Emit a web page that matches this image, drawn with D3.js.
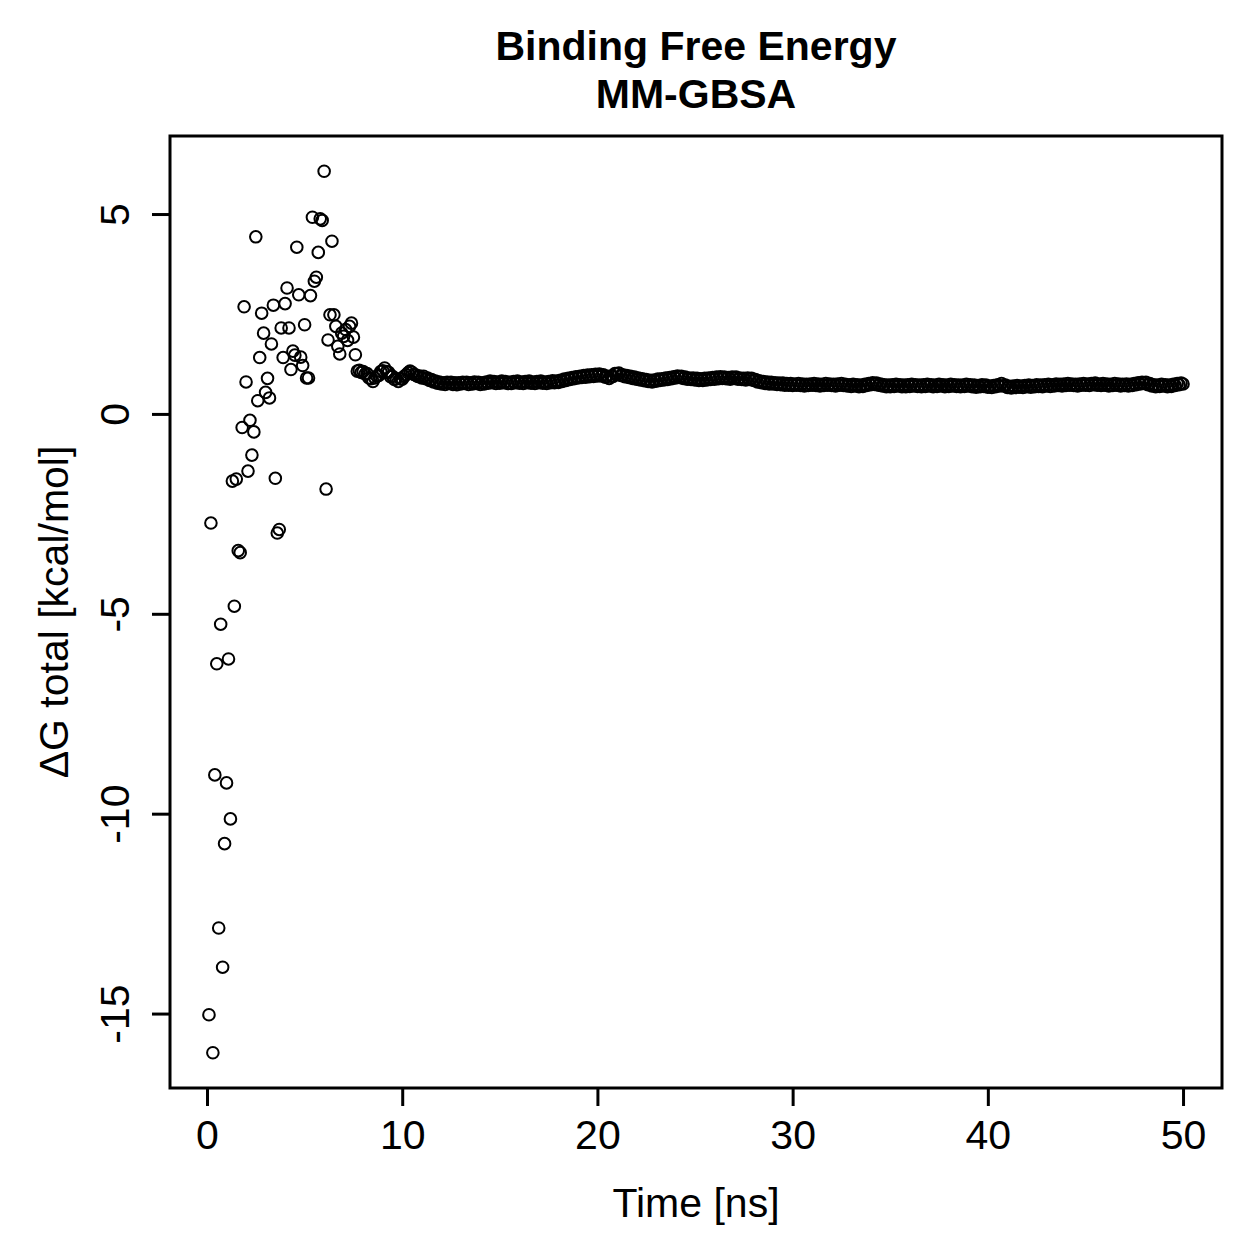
<!DOCTYPE html>
<html>
<head>
<meta charset="utf-8">
<script src="https://cdn.jsdelivr.net/npm/d3@7"></script>
<style>
  body { margin: 0; background: #fff; }
  svg text { font-family: "Liberation Sans", Arial, Helvetica, sans-serif; fill: #000; }
</style>
</head>
<body>
<div id="chart"></div>
<script>
// snapshots every 0.1 ns, 0.1 .. 50.0
const timeStep = 0.1;

// first 7.6 ns, scattered
const earlyDG = [
  -15.03, -2.73, -15.98, -9.03, -6.25, -12.86, -5.26, -13.84, -10.75, -9.23,
  -6.13, -10.13, -1.68, -4.81, -1.63, -3.42, -3.47, -0.34, 2.68, 0.80,
  -1.43, -0.16, -1.03, -0.45, 4.43, 0.33, 1.41, 2.52, 2.02, 0.54,
  0.89, 0.40, 1.75, 2.72, -1.61, -2.98, -2.89, 2.15, 1.41, 2.76,
  3.15, 2.15, 1.11, 1.57, 1.47, 4.17, 2.98, 1.42, 1.21, 2.23,
  0.90, 0.90, 2.96, 4.92, 3.32, 3.42, 4.04, 4.88, 4.84, 6.07,
  -1.88, 1.85, 2.48, 4.32, 2.48, 2.19, 1.69, 1.50, 2.02, 1.94,
  2.11, 1.84, 2.19, 2.27, 1.92, 1.48
];

// 7.7 ns .. 50.0 ns, converged band
const bandDG = [
  1.07, 1.09, 1.04,
  1.06, 1.00, 1.01, 0.90, 0.88, 0.81, 0.90, 0.95, 0.96, 1.06,
  1.08, 1.15, 1.06, 1.04, 0.93, 0.94, 0.86, 0.88, 0.81, 0.88,
  0.87, 0.94, 0.98, 1.03, 1.07, 1.04, 0.99, 0.97, 0.94, 0.95,
  0.90, 0.94, 0.88, 0.90, 0.84, 0.86, 0.80, 0.82, 0.77, 0.80,
  0.75, 0.78, 0.74, 0.79, 0.76, 0.79, 0.74, 0.78, 0.73, 0.78,
  0.75, 0.79, 0.76, 0.79, 0.74, 0.78, 0.75, 0.80, 0.76, 0.79,
  0.74, 0.78, 0.75, 0.80, 0.77, 0.82, 0.78, 0.81, 0.76, 0.80,
  0.77, 0.82, 0.78, 0.81, 0.76, 0.79, 0.76, 0.81, 0.78, 0.82,
  0.77, 0.80, 0.76, 0.81, 0.78, 0.82, 0.77, 0.80, 0.76, 0.81,
  0.78, 0.82, 0.77, 0.80, 0.76, 0.81, 0.78, 0.83, 0.78, 0.82,
  0.79, 0.84, 0.81, 0.87, 0.84, 0.89, 0.86, 0.91, 0.88, 0.93,
  0.90, 0.94, 0.91, 0.96, 0.92, 0.97, 0.93, 0.98, 0.94, 0.99,
  0.95, 1.00, 0.95, 0.98, 0.92, 0.94, 0.89, 0.95, 0.94, 1.01,
  1.00, 1.02, 0.96, 0.98, 0.93, 0.96, 0.91, 0.94, 0.89, 0.92,
  0.87, 0.90, 0.85, 0.88, 0.83, 0.86, 0.81, 0.84, 0.80, 0.85,
  0.82, 0.87, 0.84, 0.88, 0.85, 0.90, 0.86, 0.91, 0.88, 0.93,
  0.90, 0.95, 0.91, 0.94, 0.89, 0.92, 0.87, 0.90, 0.86, 0.90,
  0.85, 0.89, 0.84, 0.88, 0.84, 0.89, 0.85, 0.90, 0.86, 0.91,
  0.87, 0.92, 0.88, 0.93, 0.89, 0.92, 0.88, 0.91, 0.87, 0.92,
  0.89, 0.92, 0.87, 0.90, 0.86, 0.89, 0.85, 0.90, 0.86, 0.89,
  0.84, 0.86, 0.80, 0.83, 0.78, 0.81, 0.76, 0.80, 0.75, 0.79,
  0.75, 0.78, 0.74, 0.77, 0.73, 0.77, 0.72, 0.76, 0.72, 0.76,
  0.71, 0.75, 0.72, 0.76, 0.71, 0.75, 0.70, 0.74, 0.71, 0.75,
  0.72, 0.76, 0.71, 0.75, 0.70, 0.74, 0.71, 0.76, 0.72, 0.75,
  0.71, 0.74, 0.70, 0.75, 0.72, 0.76, 0.71, 0.74, 0.70, 0.73,
  0.69, 0.74, 0.70, 0.73, 0.68, 0.72, 0.69, 0.74, 0.71, 0.76,
  0.73, 0.78, 0.74, 0.77, 0.72, 0.75, 0.70, 0.73, 0.68, 0.72,
  0.68, 0.73, 0.69, 0.74, 0.70, 0.73, 0.68, 0.72, 0.68, 0.73,
  0.69, 0.74, 0.70, 0.73, 0.69, 0.72, 0.68, 0.73, 0.69, 0.74,
  0.70, 0.73, 0.68, 0.72, 0.69, 0.74, 0.70, 0.73, 0.68, 0.72,
  0.69, 0.74, 0.70, 0.73, 0.69, 0.72, 0.68, 0.72, 0.69, 0.74,
  0.70, 0.73, 0.68, 0.72, 0.67, 0.71, 0.68, 0.73, 0.69, 0.72,
  0.67, 0.70, 0.66, 0.71, 0.68, 0.73, 0.70, 0.76, 0.70, 0.72,
  0.66, 0.69, 0.65, 0.70, 0.66, 0.71, 0.67, 0.70, 0.66, 0.71,
  0.68, 0.72, 0.67, 0.71, 0.68, 0.73, 0.69, 0.72, 0.68, 0.73,
  0.70, 0.74, 0.69, 0.73, 0.70, 0.75, 0.71, 0.74, 0.70, 0.75,
  0.71, 0.76, 0.72, 0.75, 0.71, 0.74, 0.70, 0.75, 0.72, 0.76,
  0.72, 0.75, 0.71, 0.76, 0.73, 0.77, 0.72, 0.75, 0.71, 0.76,
  0.72, 0.75, 0.70, 0.74, 0.71, 0.76, 0.72, 0.75, 0.70, 0.74,
  0.71, 0.75, 0.70, 0.74, 0.71, 0.76, 0.73, 0.78, 0.75, 0.79,
  0.76, 0.79, 0.73, 0.76, 0.70, 0.73, 0.68, 0.72, 0.69, 0.74,
  0.70, 0.73, 0.68, 0.72, 0.69, 0.74, 0.71, 0.76, 0.73, 0.77,
  0.75
];

const xTicks = [0, 10, 20, 30, 40, 50];
const yTicks = [-15, -10, -5, 0, 5];

const titleLines = ["Binding Free Energy", "MM-GBSA"];
const xLabel = "Time [ns]";
const yLabel = "\u0394G total [kcal/mol]";

const data = earlyDG.concat(bandDG).map((v, i) => ({
  time: +((i + 1) * timeStep).toFixed(1),
  dG: v
}));

const width = 1259, height = 1259;
const plot = {left: 170, right: 1222, top: 136, bottom: 1088};
const fontSize = 41;
const fontFamily = "'Liberation Sans', Arial, Helvetica, sans-serif";

const svg = d3.select("#chart").append("svg")
  .attr("width", width)
  .attr("height", height);

// R style: data range padded by 4% on each side
function pad(ext) {
  const r = ext[1] - ext[0];
  return [ext[0] - 0.04 * r, ext[1] + 0.04 * r];
}

const x = d3.scaleLinear()
  .domain(pad(d3.extent(data, d => d.time)))
  .range([plot.left, plot.right]);

const y = d3.scaleLinear()
  .domain(pad(d3.extent(data, d => d.dG)))
  .range([plot.bottom, plot.top]);

// points
svg.append("g")
  .attr("class", "points")
  .selectAll("circle")
  .data(data)
  .enter()
  .append("circle")
  .attr("cx", d => x(d.time))
  .attr("cy", d => y(d.dG))
  .attr("r", 5.8)
  .attr("fill", "none")
  .attr("stroke", "#000")
  .attr("stroke-width", 2);

// box
svg.append("rect")
  .attr("x", plot.left)
  .attr("y", plot.top)
  .attr("width", plot.right - plot.left)
  .attr("height", plot.bottom - plot.top)
  .attr("fill", "none")
  .attr("stroke", "#000")
  .attr("stroke-width", 3);

// x axis
const xAxis = svg.append("g")
  .attr("transform", "translate(0," + plot.bottom + ")")
  .call(d3.axisBottom(x).tickValues(xTicks).tickSize(18).tickFormat(d3.format("d")));
xAxis.select(".domain").remove();
xAxis.selectAll(".tick line").attr("stroke-width", 3);
xAxis.selectAll(".tick text")
  .attr("y", 61)
  .attr("dy", null)
  .style("font-size", fontSize + "px")
  .style("font-family", fontFamily);

// y axis, labels parallel to the axis
const yAxis = svg.append("g")
  .attr("transform", "translate(" + plot.left + ",0)")
  .call(d3.axisLeft(y).tickValues(yTicks).tickSize(18).tickFormat(d3.format("d")));
yAxis.select(".domain").remove();
yAxis.selectAll(".tick line").attr("stroke-width", 3);
yAxis.selectAll(".tick text")
  .attr("x", null)
  .attr("dy", null)
  .attr("text-anchor", "middle")
  .attr("transform", "translate(-41,0) rotate(-90)")
  .text(d => d < 0 ? "-" + Math.abs(d) : d)
  .style("font-size", fontSize + "px")
  .style("font-family", fontFamily);

// titles
const cx = (plot.left + plot.right) / 2;
svg.append("text")
  .attr("x", cx)
  .attr("y", 60)
  .attr("text-anchor", "middle")
  .style("font-size", fontSize + "px")
  .style("font-weight", "bold")
  .text(titleLines[0]);
svg.append("text")
  .attr("x", cx)
  .attr("y", 108)
  .attr("text-anchor", "middle")
  .style("font-size", fontSize + "px")
  .style("font-weight", "bold")
  .text(titleLines[1]);

svg.append("text")
  .attr("x", cx)
  .attr("y", 1217)
  .attr("text-anchor", "middle")
  .style("font-size", fontSize + "px")
  .text(xLabel);

svg.append("text")
  .attr("transform", "translate(68," + ((plot.top + plot.bottom) / 2) + ") rotate(-90)")
  .attr("text-anchor", "middle")
  .style("font-size", fontSize + "px")
  .text(yLabel);
</script>
</body>
</html>
